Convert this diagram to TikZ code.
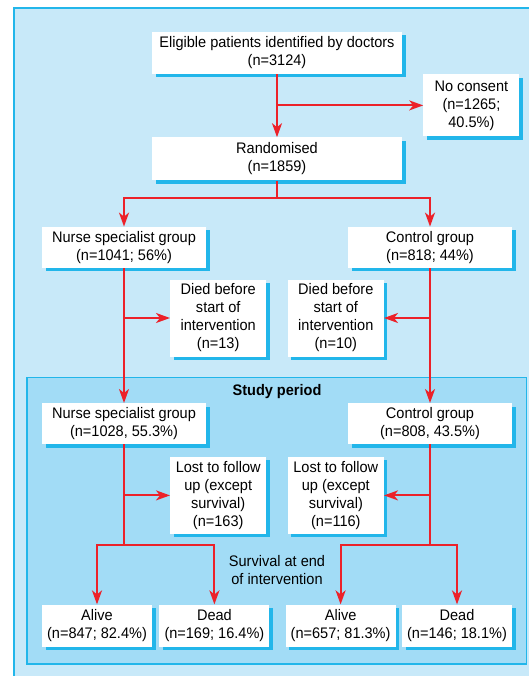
\documentclass[tikz,border=0pt]{standalone}
\usepackage{fontspec}
\setmainfont{Liberation Sans}[FakeStretch=0.95]
\usetikzlibrary{positioning,arrows.meta,shadows}
\definecolor{panelblue}{HTML}{C8E9F9}
\definecolor{studyblue}{HTML}{A2DCF6}
\definecolor{rimblue}{HTML}{22B6EA}
\definecolor{flowred}{HTML}{EC2129}
\newcommand{\flowfont}{\fontsize{15.3}{18}\selectfont}
\tikzset{
  box/.style={fill=white, align=center, font=\flowfont, inner sep=0pt, drop shadow={shadow xshift=3.5pt, shadow yshift=-3.5pt, fill=rimblue, opacity=1}},
  wide/.style={box, minimum width=250pt, minimum height=42pt},
  grp/.style={box, minimum width=164pt, minimum height=41pt},
  side/.style={box, minimum width=96pt, minimum height=77pt},
  fate/.style={box, minimum width=110pt, minimum height=42pt},
  arr/.style={-{Stealth[length=14pt, width=10pt, inset=4pt]}, line width=2pt, flowred},
  seg/.style={line width=2pt, flowred}}

\begin{document}
\begin{tikzpicture}[x=1pt, y=1pt]
\useasboundingbox (0,0) rectangle (529,-676);
\clip (0,0) rectangle (529,-676);
\draw[rimblue, line width=2pt, fill=panelblue] (14,-8) rectangle (600,-720);
\draw[rimblue, line width=1.5pt, fill=studyblue] (27,-377.3) rectangle (526.3,-664);
\node[font=\flowfont\bfseries] (study) at (277,-391.5) {Study period};
\node[wide] (elig) at (277,-53) {Eligible patients identified by doctors\\(n=3124)};
\node[box, minimum width=96pt, minimum height=62pt, below right=0pt and 21pt of elig.south east] (nocons) {No consent\\(n=1265;\\40.5\%)};
\node[wide, minimum height=43pt, below=63pt of elig] (rand) {Randomised\\(n=1859)};
\coordinate[below=17pt of rand] (fork);
\node[grp, below=46pt of rand, xshift=-153pt] (nurseA) {Nurse specialist group\\(n=1041; 56\%)};
\node[grp, below=46pt of rand, xshift=153pt] (ctrlA) {Control group\\(n=818; 44\%)};
\coordinate[below=50pt of nurseA] (jA);
\coordinate[below=50pt of ctrlA] (jB);
\node[side, right=46pt of jA] (diedA) {Died before\\start of\\intervention\\(n=13)};
\node[side, left=46pt of jB] (diedB) {Died before\\start of\\intervention\\(n=10)};
\node[grp, below=135pt of nurseA] (nurseB) {Nurse specialist group\\(n=1028, 55.3\%)};
\node[grp, below=135pt of ctrlA] (ctrlB) {Control group\\(n=808, 43.5\%)};
\coordinate[below=51pt of nurseB] (kA);
\coordinate[below=51pt of ctrlB] (kB);
\node[side, right=46pt of kA] (lostA) {Lost to follow\\up (except\\survival)\\(n=163)};
\node[side, left=46pt of kB] (lostB) {Lost to follow\\up (except\\survival)\\(n=116)};
\coordinate[below=101pt of nurseB] (sA);
\coordinate[below=101pt of ctrlB] (sB);
\node[font=\flowfont, align=center] (surv) at (277,-570) {Survival at end\\of intervention};
\node[fate, below right=160pt and 0pt of nurseB.south west] (aliveA) {Alive\\(n=847; 82.4\%)};
\node[fate, right=7pt of aliveA] (deadA) {Dead\\(n=169; 16.4\%)};
\node[fate, below left=160pt and 0pt of ctrlB.south east] (deadB) {Dead\\(n=146; 18.1\%)};
\node[fate, left=6pt of deadB] (aliveB) {Alive\\(n=657; 81.3\%)};
\draw[arr] (elig) -- (rand);
\draw[arr] (elig.south |- nocons.west) -- (nocons.west);
\draw[seg] (rand) -- (fork);
\draw[arr] (fork) -| (nurseA.north); \draw[arr] (fork) -| (ctrlA.north);
\draw[arr] (nurseA) -- (nurseB); \draw[arr] (ctrlA) -- (ctrlB);
\draw[arr] (jA) -- (diedA); \draw[arr] (jB) -- (diedB);
\draw[arr] (kA) -- (lostA); \draw[arr] (kB) -- (lostB);
\draw[seg] (nurseB) -- (sA); \draw[seg] (ctrlB) -- (sB);
\draw[arr] (sA) -| (aliveA.north); \draw[arr] (sA) -| (deadA.north);
\draw[arr] (sB) -| (aliveB.north); \draw[arr] (sB) -| (deadB.north);
\end{tikzpicture}
\end{document}
